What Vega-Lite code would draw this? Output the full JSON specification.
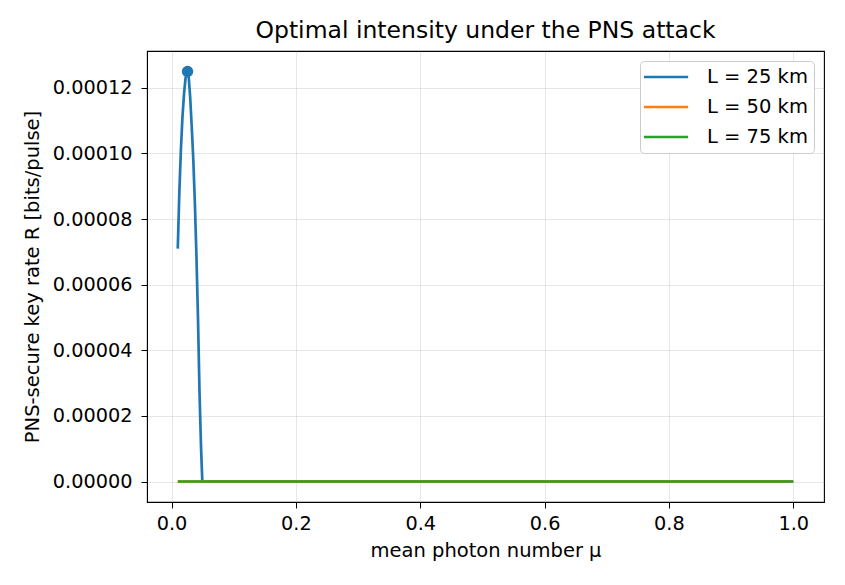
{
  "$schema": "https://vega.github.io/schema/vega-lite/v6.json",
  "width": 677,
  "height": 451,
  "autosize": {"type": "none"},
  "padding": {"left": 147, "top": 51, "right": 21, "bottom": 83},
  "background": "white",
  "title": {
    "text": "Optimal intensity under the PNS attack",
    "fontSize": 23.5,
    "font": "DejaVu Sans",
    "fontWeight": "normal",
    "color": "black",
    "offset": 9
  },
  "config": {
    "font": "DejaVu Sans",
    "view": {"stroke": "black", "strokeWidth": 1.1},
    "axis": {
      "labelFont": "DejaVu Sans",
      "titleFont": "DejaVu Sans",
      "labelFontSize": 19.3,
      "titleFontSize": 19.5,
      "titleFontWeight": "normal",
      "labelColor": "black",
      "titleColor": "black",
      "tickColor": "black",
      "domainColor": "black",
      "tickSize": 6,
      "gridColor": "#b0b0b0",
      "gridOpacity": 0.3,
      "gridWidth": 1
    }
  },
  "data": {
    "values": [
      {"mu": 0.010, "R": 0.0000710, "L": "L = 25 km"},
      {"mu": 0.0125, "R": 0.0000880, "L": "L = 25 km"},
      {"mu": 0.015, "R": 0.0001010, "L": "L = 25 km"},
      {"mu": 0.0175, "R": 0.0001110, "L": "L = 25 km"},
      {"mu": 0.020, "R": 0.0001180, "L": "L = 25 km"},
      {"mu": 0.0225, "R": 0.0001230, "L": "L = 25 km"},
      {"mu": 0.0257, "R": 0.0001250, "L": "L = 25 km"},
      {"mu": 0.0275, "R": 0.0001235, "L": "L = 25 km"},
      {"mu": 0.030, "R": 0.0001170, "L": "L = 25 km"},
      {"mu": 0.0325, "R": 0.0001080, "L": "L = 25 km"},
      {"mu": 0.035, "R": 0.0000980, "L": "L = 25 km"},
      {"mu": 0.0375, "R": 0.0000850, "L": "L = 25 km"},
      {"mu": 0.040, "R": 0.0000690, "L": "L = 25 km"},
      {"mu": 0.0425, "R": 0.0000500, "L": "L = 25 km"},
      {"mu": 0.045, "R": 0.0000270, "L": "L = 25 km"},
      {"mu": 0.0475, "R": 0.0000100, "L": "L = 25 km"},
      {"mu": 0.0495, "R": 0.0, "L": "L = 25 km"},
      {"mu": 0.25, "R": 0.0, "L": "L = 25 km"},
      {"mu": 0.5, "R": 0.0, "L": "L = 25 km"},
      {"mu": 0.75, "R": 0.0, "L": "L = 25 km"},
      {"mu": 1.0, "R": 0.0, "L": "L = 25 km"},
      {"mu": 0.010, "R": 0.0, "L": "L = 50 km"},
      {"mu": 0.25, "R": 0.0, "L": "L = 50 km"},
      {"mu": 0.5, "R": 0.0, "L": "L = 50 km"},
      {"mu": 0.75, "R": 0.0, "L": "L = 50 km"},
      {"mu": 1.0, "R": 0.0, "L": "L = 50 km"},
      {"mu": 0.010, "R": 0.0, "L": "L = 75 km"},
      {"mu": 0.25, "R": 0.0, "L": "L = 75 km"},
      {"mu": 0.5, "R": 0.0, "L": "L = 75 km"},
      {"mu": 0.75, "R": 0.0, "L": "L = 75 km"},
      {"mu": 1.0, "R": 0.0, "L": "L = 75 km"}
    ]
  },
  "layer": [
    {
      "mark": {"type": "line", "strokeWidth": 2.7, "clip": true},
      "encoding": {
        "x": {
          "field": "mu",
          "type": "quantitative",
          "scale": {"domain": [-0.0395, 1.0495], "nice": false, "zero": false},
          "axis": {
            "title": "mean photon number μ",
            "values": [0, 0.2, 0.4, 0.6, 0.8, 1.0],
            "format": ".1f",
            "labelPadding": 6,
            "titlePadding": 8
          }
        },
        "y": {
          "field": "R",
          "type": "quantitative",
          "scale": {"domain": [-0.00000625, 0.00013125], "nice": false, "zero": false},
          "axis": {
            "title": "PNS-secure key rate R [bits/pulse]",
            "values": [0, 0.00002, 0.00004, 0.00006, 0.00008, 0.0001, 0.00012],
            "format": ".5f",
            "labelPadding": 9,
            "titlePadding": 10
          }
        },
        "color": {
          "field": "L",
          "type": "nominal",
          "scale": {
            "domain": ["L = 25 km", "L = 50 km", "L = 75 km"],
            "range": ["#1f77b4", "#ff7f0e", "#2ca02c"]
          },
          "legend": {
            "title": null,
            "orient": "top-right",
            "offset": 10,
            "symbolType": "M-1.42,0H3.78",
            "symbolSize": 289,
            "symbolStrokeWidth": 2.7,
            "labelFontSize": 19.5,
            "labelFont": "DejaVu Sans",
            "labelColor": "black",
            "rowPadding": 10,
            "padding": 6,
            "strokeColor": "#cccccc",
            "cornerRadius": 4,
            "fillColor": "white",
            "labelOffset": 41
          }
        },
        "order": {"field": "mu", "type": "quantitative"}
      }
    },
    {
      "transform": [{"filter": "datum.L == 'L = 25 km' && datum.R >= 0.000125"}],
      "mark": {"type": "point", "filled": true, "size": 130, "opacity": 1, "color": "#1f77b4"},
      "encoding": {
        "x": {"field": "mu", "type": "quantitative"},
        "y": {"field": "R", "type": "quantitative"}
      }
    }
  ]
}
